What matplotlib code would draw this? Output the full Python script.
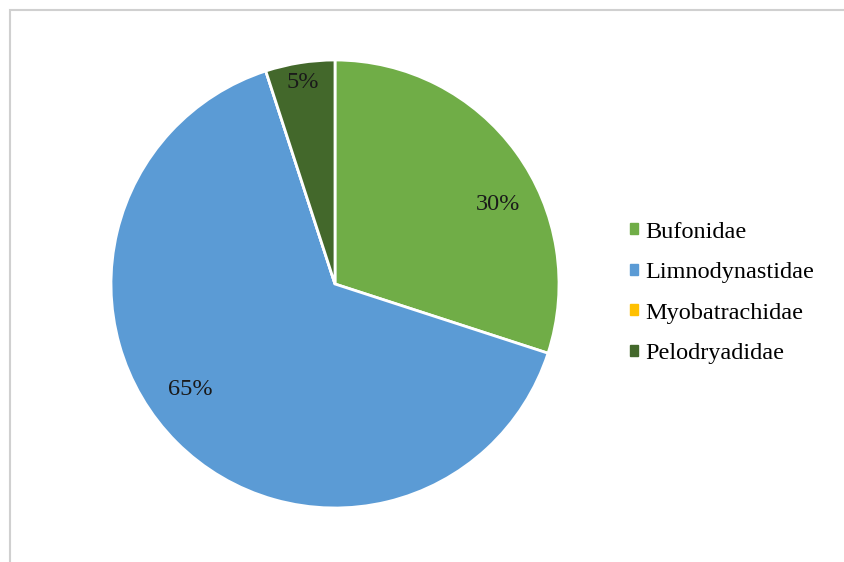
import matplotlib.pyplot as plt
import matplotlib.patches as mpatches
import numpy as np

families = ["Bufonidae", "Limnodynastidae", "Myobatrachidae", "Pelodryadidae"]
shares = [30, 65, 0, 5]
colors = ["#70AD47", "#5B9BD5", "#FFC000", "#43682B"]

# label placement tweaks (radius fraction, angle offset in degrees)
label_radius = [0.81, 0.80, 0.80, 0.91]
label_rot = [-10, -9, 0, 0]

plt.rcParams['font.family'] = ['Liberation Serif', 'DejaVu Serif']

fig = plt.figure(figsize=(8.44, 5.62), dpi=100)

# light gray chart frame
fig.patches.append(mpatches.Rectangle((10 / 844, -0.1), 1.2, 1 - 10 / 562 + 0.1,
                                      transform=fig.transFigure, fill=False,
                                      edgecolor="#D0D0D0", linewidth=1.5))

ax = fig.add_axes([111 / 844, (562 - 508) / 562, 448 / 844, 448 / 562])

wedges, _ = ax.pie(shares, colors=colors, startangle=90, counterclock=False,
                   wedgeprops=dict(edgecolor="white", linewidth=2))
ax.set_xlim(-1, 1)
ax.set_ylim(-1, 1)

total = sum(shares)
for w, v, r, rot in zip(wedges, shares, label_radius, label_rot):
    if v == 0:
        continue
    ang = np.deg2rad((w.theta1 + w.theta2) / 2 + rot)
    ax.text(r * np.cos(ang), r * np.sin(ang), f"{v / total * 100:.0f}%",
            ha="center", va="center", fontsize=17.5, color="#1a1a1a")

handles = [mpatches.Patch(color=c) for c in colors]
fig.legend(handles, families, loc="center left", bbox_to_anchor=(0.72, 0.479),
           frameon=False, fontsize=17.5, handlelength=0.33, handleheight=0.33,
           handletextpad=0.3, labelspacing=0.8)

fig.savefig("out.png", dpi=100)
